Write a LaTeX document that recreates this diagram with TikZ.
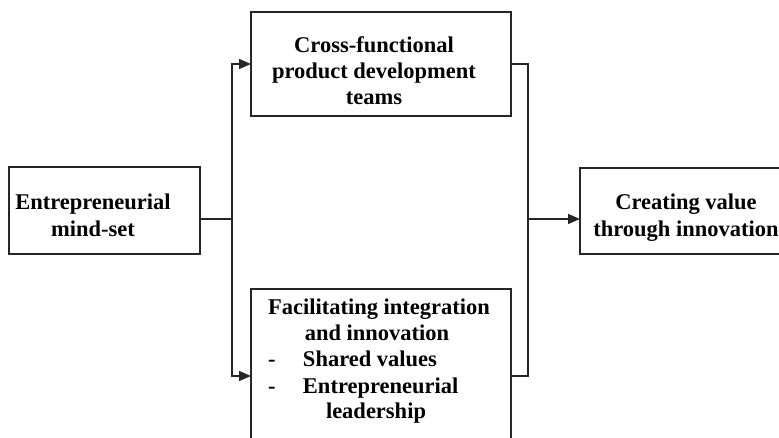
\documentclass[tikz,border=0pt]{standalone}
\usepackage{fontspec}
\setmainfont{Liberation Serif}
\usetikzlibrary{arrows.meta}
\begin{document}
\begin{tikzpicture}[x=1pt,y=-1pt,
  boxshape/.style={draw=black!85, line width=1.4pt, rectangle, inner sep=0pt, outer sep=0pt},
  txt/.style={inner sep=0pt, outer sep=0pt, anchor=base, font=\fontsize{22.5}{26}\selectfont\bfseries},
  conn/.style={draw=black!85, line width=1.4pt},
  arr/.style={conn, -{Triangle[length=12pt,width=10pt]}}]
\useasboundingbox (0,0) rectangle (779,438);
% boxes
\node[boxshape, minimum width=191pt, minimum height=87pt] (ems) at (104.5,210.5) {};
\node[boxshape, minimum width=260pt, minimum height=104pt] (cft) at (381,64) {};
\node[boxshape, minimum width=260pt, minimum height=174pt] (fii) at (381,376) {};
\node[boxshape, minimum width=240pt, minimum height=86pt] (cvi) at (700,211) {};
% texts
\node[txt] (emsT) at (93,210) {\begin{tabular}[t]{@{}c@{}}Entrepreneurial\\[1pt] mind-set\end{tabular}};
\node[txt] (cftT) at (374,53) {\begin{tabular}[t]{@{}c@{}}Cross-functional\\ product development\\ teams\end{tabular}};
\node[txt, anchor=base west] (fiiT) at (268,315) {\begin{tabular}[t]{@{}l@{}}\makebox[222pt]{Facilitating integration}\\ \makebox[218pt]{and innovation}\\ \makebox[35pt][l]{-}Shared values\\ \makebox[35pt][l]{-}Entrepreneurial\\ \hspace*{58pt}leadership\end{tabular}};
\node[txt] (cviT) at (686,210) {\begin{tabular}[t]{@{}c@{}}Creating value\\[1pt] through innovation\end{tabular}};
% connectors
\coordinate (L) at (232,219);
\coordinate (R) at (528,219);
\draw[conn] (ems.east |- L) -- (L);
\draw[arr] (L) |- (cft.west);
\draw[arr] (L) |- (fii.west);
\draw[conn] (cft.east) -| (R);
\draw[conn] (fii.east) -| (R);
\draw[arr] (R) -- (R -| cvi.west);
\end{tikzpicture}
\end{document}
